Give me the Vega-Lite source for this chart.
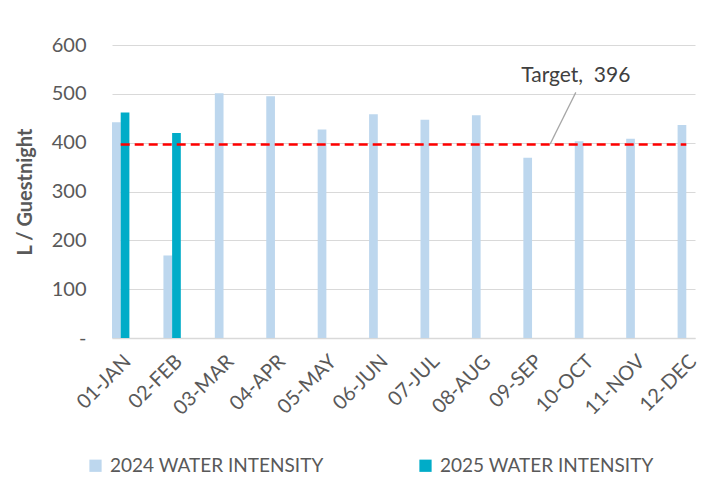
{
  "$schema": "https://vega.github.io/schema/vega-lite/v6.json",
  "width": 583,
  "height": 293,
  "autosize": {"type": "none"},
  "padding": {"left": 112, "top": 45, "right": 19, "bottom": 158},
  "background": "white",
  "config": {
    "font": "Lato",
    "view": {"stroke": null},
    "axis": {"labelColor": "#595959", "titleColor": "#595959"}
  },
  "datasets": {
    "bars": [
      {"month": "01-JAN", "series": "2024 WATER INTENSITY", "value": 442},
      {"month": "02-FEB", "series": "2024 WATER INTENSITY", "value": 169},
      {"month": "03-MAR", "series": "2024 WATER INTENSITY", "value": 501},
      {"month": "04-APR", "series": "2024 WATER INTENSITY", "value": 495},
      {"month": "05-MAY", "series": "2024 WATER INTENSITY", "value": 427},
      {"month": "06-JUN", "series": "2024 WATER INTENSITY", "value": 458},
      {"month": "07-JUL", "series": "2024 WATER INTENSITY", "value": 447},
      {"month": "08-AUG", "series": "2024 WATER INTENSITY", "value": 456},
      {"month": "09-SEP", "series": "2024 WATER INTENSITY", "value": 369},
      {"month": "10-OCT", "series": "2024 WATER INTENSITY", "value": 403},
      {"month": "11-NOV", "series": "2024 WATER INTENSITY", "value": 408},
      {"month": "12-DEC", "series": "2024 WATER INTENSITY", "value": 436},
      {"month": "01-JAN", "series": "2025 WATER INTENSITY", "value": 462},
      {"month": "02-FEB", "series": "2025 WATER INTENSITY", "value": 420}
    ],
    "target": [
      {"month": "01-JAN", "target": 396},
      {"month": "02-FEB", "target": 396},
      {"month": "03-MAR", "target": 396},
      {"month": "04-APR", "target": 396},
      {"month": "05-MAY", "target": 396},
      {"month": "06-JUN", "target": 396},
      {"month": "07-JUL", "target": 396},
      {"month": "08-AUG", "target": 396},
      {"month": "09-SEP", "target": 396},
      {"month": "10-OCT", "target": 396},
      {"month": "11-NOV", "target": 396},
      {"month": "12-DEC", "target": 396}
    ],
    "note": [
      {"pos": 8.52, "val": 397, "pos2": 9.02, "val2": 503, "textpos": 9.02, "textval": 536, "label": "Target,\u00a0 396"}
    ]
  },
  "layer": [
    {
      "layer": [
        {
          "data": {"name": "bars"},
          "mark": {"type": "bar"},
          "encoding": {
            "x": {
              "field": "month",
              "type": "nominal",
              "sort": null,
              "scale": {"paddingInner": 0.6616, "paddingOuter": 0},
              "axis": {
                "title": null,
                "labelAngle": -45,
                "labelAlign": "right",
                "labelBaseline": "top",
                "labelFontSize": 20,
                "labelPadding": 13,
                "ticks": false,
                "grid": false,
                "domainColor": "#D9D9D9",
                "domainWidth": 1.5
              }
            },
            "xOffset": {
              "field": "series",
              "scale": {
                "domain": ["2024 WATER INTENSITY", "2025 WATER INTENSITY"],
                "paddingInner": 0,
                "paddingOuter": 0
              }
            },
            "y": {
              "field": "value",
              "type": "quantitative",
              "scale": {"domain": [0, 600]},
              "axis": {
                "title": "L / Guestnight",
                "titleFontSize": 20,
                "titleFontWeight": "bold",
                "titlePadding": 16,
                "labelFontSize": 20,
                "labelPadding": 26,
                "values": [0, 100, 200, 300, 400, 500, 600],
                "labelExpr": "datum.value === 0 ? '-\u00a0\u00a0\u00a0\u00a0\u00a0\u00a0' : datum.label",
                "domain": false,
                "ticks": false,
                "gridColor": "#D9D9D9",
                "gridWidth": 1.2
              }
            },
            "color": {
              "field": "series",
              "type": "nominal",
              "scale": {
                "domain": ["2024 WATER INTENSITY", "2025 WATER INTENSITY"],
                "range": ["#BDD7EE", "#00ACC8"]
              },
              "legend": {
                "orient": "none",
                "legendX": -26,
                "legendY": 411,
                "direction": "horizontal",
                "title": null,
                "symbolType": "square",
                "symbolSize": 150,
                "symbolStrokeWidth": 0,
                "labelFontSize": 19,
                "labelLimit": 400,
                "labelColor": "#595959",
                "labelOffset": 5,
                "columnPadding": 92
              }
            }
          }
        },
        {
          "data": {"name": "target"},
          "mark": {"type": "line", "color": "#FF0000", "strokeDash": [9, 5], "strokeWidth": 2.5},
          "encoding": {
            "x": {"field": "month", "type": "nominal", "sort": null},
            "y": {"field": "target", "type": "quantitative"}
          }
        }
      ]
    },
    {
      "data": {"name": "note"},
      "layer": [
        {
          "mark": {"type": "rule", "color": "#A6A6A6", "strokeWidth": 1.2},
          "encoding": {
            "x": {"field": "pos", "type": "quantitative", "scale": {"domain": [0, 11.338], "nice": false, "zero": false}, "axis": null},
            "x2": {"field": "pos2"},
            "y": {"field": "val", "type": "quantitative", "scale": {"domain": [0, 600]}, "axis": null},
            "y2": {"field": "val2"}
          }
        },
        {
          "mark": {"type": "text", "fontSize": 21, "color": "#404040", "baseline": "middle", "align": "center"},
          "encoding": {
            "x": {"field": "textpos", "type": "quantitative", "scale": {"domain": [0, 11.338], "nice": false, "zero": false}, "axis": null},
            "y": {"field": "textval", "type": "quantitative", "scale": {"domain": [0, 600]}, "axis": null},
            "text": {"field": "label"}
          }
        }
      ]
    }
  ],
  "resolve": {"scale": {"x": "independent", "y": "independent"}}
}
